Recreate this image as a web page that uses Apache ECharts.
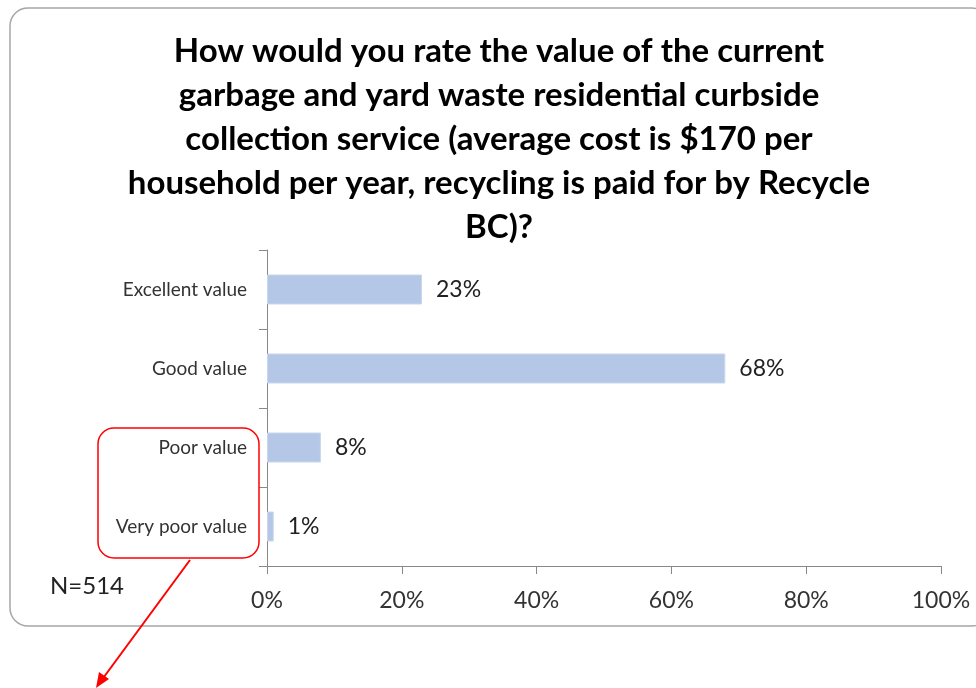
<!DOCTYPE html>
<html>
<head>
<meta charset="utf-8">
<script src="https://cdn.jsdelivr.net/npm/echarts@6/dist/echarts.min.js"></script>
<style>
	html, body { margin: 0; padding: 0; background: #fff; }
	#chart { width: 976px; height: 688px; }
</style>
</head>
<body>
<div id="chart"></div>
<script>
// data
var categories = ['Excellent value', 'Good value', 'Poor value', 'Very poor value'];
var percents = [23, 68, 8, 1];
var xTicks = [0, 20, 40, 60, 80, 100];
var titleLines = [
	'How would you rate the value of the current',
	'garbage and yard waste residential curbside',
	'collection service (average cost is $170 per',
	'household per year, recycling is paid for by Recycle',
	'BC)?'
];
var sampleNote = 'N=514';

var font = 'Lato';

var chart = echarts.init(document.getElementById('chart'));

var option = {
	backgroundColor: '#fff',
	animation: false,
	grid: {
		left: 267,
		top: 250,
		width: 674,
		height: 316
	},
	xAxis: {
		type: 'value',
		min: xTicks[0],
		max: xTicks[xTicks.length - 1],
		interval: 20,
		axisLine: { show: true, lineStyle: { color: '#888', width: 1 } },
		axisTick: { show: true, length: 8, lineStyle: { color: '#888' } },
		splitLine: { show: false },
		axisLabel: {
			formatter: '{value}%',
			margin: 23,
			fontFamily: font,
			fontSize: 23,
			color: '#333'
		}
	},
	yAxis: {
		type: 'category',
		inverse: true,
		data: categories,
		axisLine: { show: true, lineStyle: { color: '#888', width: 1 } },
		axisTick: { show: true, length: 8, lineStyle: { color: '#888' } },
		axisLabel: {
			margin: 20,
			fontFamily: font,
			fontSize: 19,
			color: '#333'
		}
	},
	series: [{
		type: 'bar',
		data: percents,
		barWidth: 30,
		itemStyle: {
			color: '#B4C7E7',
			borderColor: '#C9D7EE',
			borderWidth: 1
		},
		label: {
			show: true,
			position: 'right',
			distance: 14,
			formatter: '{c}%',
			fontFamily: font,
			fontSize: 23,
			color: '#222'
		}
	}],
	graphic: [
		// outer frame
		{
			type: 'rect',
			shape: { x: 10, y: 8, width: 980, height: 618, r: 18 },
			style: { fill: 'none', stroke: '#a6a6a6', lineWidth: 1.5 },
			silent: true
		},
		// title
		{
			type: 'text',
			x: 499,
			y: 29,
			style: {
				text: titleLines.join('\n'),
				align: 'center',
				verticalAlign: 'top',
				fontFamily: font,
				fontWeight: 'bold',
				fontSize: 33,
				lineHeight: 44,
				fill: '#000'
			}
		},
		// sample size
		{
			type: 'text',
			left: 50,
			top: 574,
			style: { text: sampleNote, fontFamily: font, fontSize: 24, fill: '#222' }
		},
		// red callout box
		{
			type: 'rect',
			shape: { x: 98, y: 428, width: 161, height: 130, r: 16 },
			style: { fill: 'none', stroke: '#ff0000', lineWidth: 1.5 },
			z: 10
		},
		// arrow
		{
			type: 'line',
			shape: { x1: 190, y1: 560, x2: 101, y2: 681 },
			style: { stroke: '#ff0000', lineWidth: 2 },
			z: 10
		},
		{
			type: 'polygon',
			shape: { points: [[96, 688], [109, 679], [99, 672]] },
			style: { fill: '#ff0000' },
			z: 10
		}
	]
};

chart.setOption(option);
</script>
</body>
</html>
